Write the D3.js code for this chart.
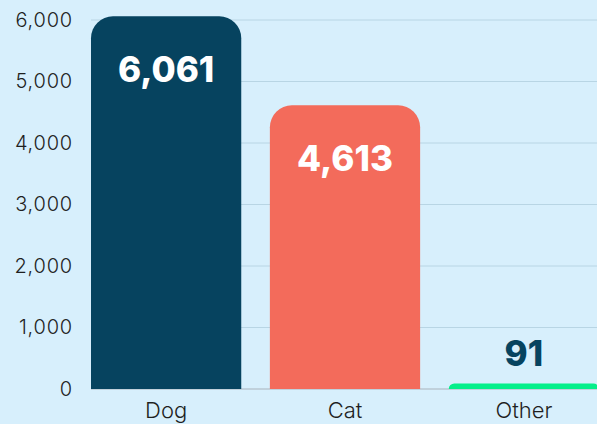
<!DOCTYPE html>
<html>
<head>
<meta charset="utf-8">
<script src="https://cdn.jsdelivr.net/npm/d3@7"></script>
<style>
  html, body { margin: 0; padding: 0; background: #d7effc; }
  svg { display: block; }
</style>
</head>
<body>
<svg id="chart"></svg>
<script>
const categories = ['Dog', 'Cat', 'Other']
const values = [6061, 4613, 91]
const barColors = ['#06435f', '#f36b5b', '#04ef8a']
const labelColors = ['#ffffff', '#ffffff', '#06435f']
const yTicks = [0, 1000, 2000, 3000, 4000, 5000, 6000]

const width = 597, height = 424
const margin = {top: 20, right: -2, bottom: 35, left: 91}

const svg = d3.select('#chart')
    .attr('width', width)
    .attr('height', height)
    .style('background', '#d7effc')

const x = d3.scaleBand()
    .domain(categories)
    .range([margin.left, width - margin.right])
    .paddingInner(0.16)
    .paddingOuter(0)

const y = d3.scaleLinear()
    .domain([0, 6000])
    .range([height - margin.bottom, margin.top])

// gridlines
svg.append('g')
    .selectAll('line')
    .data(yTicks.filter(d => d > 0))
    .join('line')
    .attr('x1', margin.left)
    .attr('x2', width)
    .attr('y1', d => y(d))
    .attr('y2', d => y(d))
    .attr('stroke', '#b8d5e4')
    .attr('stroke-width', 1)

// baseline
svg.append('line')
    .attr('x1', margin.left)
    .attr('x2', width)
    .attr('y1', y(0))
    .attr('y2', y(0))
    .attr('stroke', '#a9b4bb')
    .attr('stroke-width', 1.2)

// y axis labels
const yAxis = svg.append('g')
    .attr('transform', `translate(${margin.left - 18},0)`)
    .call(d3.axisLeft(y).tickValues(yTicks).tickSize(0).tickPadding(0).tickFormat(d3.format(',')))
yAxis.select('.domain').remove()
yAxis.selectAll('text')
    .style('font-family', 'Inter, sans-serif')
    .style('font-weight', '300')
    .style('font-size', '20px')
    .style('letter-spacing', '0.8px')
    .style('fill', '#1f1f1f')

// x axis labels
const xAxis = svg.append('g')
    .attr('transform', `translate(0,${y(0)})`)
    .call(d3.axisBottom(x).tickSize(0).tickPadding(13))
xAxis.select('.domain').remove()
xAxis.selectAll('text')
    .style('font-family', 'Inter, sans-serif')
    .style('font-weight', '300')
    .style('font-size', '22px')
    .style('fill', '#1f1f1f')

const topRounded = (x0, y0, w, h, r) => {
    r = Math.min(r, h, w / 2)
    return `M${x0},${y0 + h}V${y0 + r}A${r},${r} 0 0 1 ${x0 + r},${y0}` +
        `H${x0 + w - r}A${r},${r} 0 0 1 ${x0 + w},${y0 + r}V${y0 + h}Z`
}

const data = categories.map((c, i) => ({cat: c, value: values[i], color: barColors[i], label: labelColors[i]}))

svg.append('g')
    .selectAll('path')
    .data(data)
    .join('path')
    .attr('d', d => topRounded(x(d.cat), y(d.value), x.bandwidth(), y(0) - y(d.value), 22))
    .attr('fill', d => d.color)

svg.append('g')
    .selectAll('text')
    .data(data)
    .join('text')
    .attr('x', d => x(d.cat) + x.bandwidth() / 2)
    .attr('y', d => (y(0) - y(d.value) > 80) ? y(d.value) + 56 : y(d.value) - 27)
    .attr('text-anchor', 'middle')
    .attr('dominant-baseline', 'middle')
    .style('font-family', 'Inter, sans-serif')
    .style('font-weight', '800')
    .style('font-size', '35px')
    .style('fill', d => d.label)
    .text(d => d3.format(',')(d.value))
</script>
</body>
</html>
